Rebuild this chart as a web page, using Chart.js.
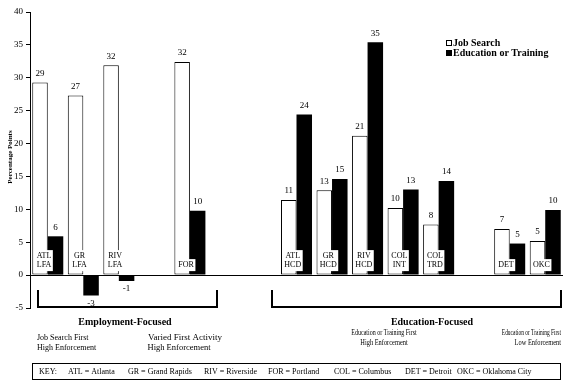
<!DOCTYPE html>
<html lang="en">
<head>
  <meta charset="UTF-8" />
  <title>Percentage Points by Site</title>
  <style>
    body { margin: 0; background: #fff; }
    .wrap { width: 572px; height: 392px; position: relative; }
  </style>
</head>
<body>
  <div class="wrap"><canvas id="chart" width="572" height="392"></canvas></div>

  <script src="https://cdn.jsdelivr.net/npm/chart.js"></script>
  <script>
    // categories (empty slots are the gaps between program groups)
    const sites = ['ATL\nLFA', 'GR\nLFA', 'RIV\nLFA', '', 'FOR', '', '', 'ATL\nHCD', 'GR\nHCD', 'RIV\nHCD', 'COL\nINT', 'COL\nTRD', '', 'DET', 'OKC'];
    const jobSearch = [29.3, 27.3, 31.9, null, 32.4, null, null, 11.4, 12.9, 21.2, 10.2, 7.7, null, 7.0, 5.2];
    const eduTraining = [5.9, -3.1, -0.9, null, 9.8, null, null, 24.4, 14.6, 35.4, 13.0, 14.3, null, 4.8, 9.9];
    const yTicks = [-5, 0, 5, 10, 15, 20, 25, 30, 35, 40];
    const seriesNames = ['Job Search', 'Education or Training'];
    const keyItems = ['KEY:', 'ATL = Atlanta', 'GR = Grand Rapids', 'RIV = Riverside', 'FOR = Portland', 'COL = Columbus', 'DET = Detroit', 'OKC = Oklahoma City'];

    const SERIF = '"Liberation Serif", "DejaVu Serif", serif';

    // text squeezed horizontally, like the narrow print in the original
    function narrowText(ctx, text, x, y, sx) {
      ctx.save();
      ctx.translate(x, y);
      ctx.scale(sx, 1);
      ctx.fillText(text, 0, 0);
      ctx.restore();
    }

    const extras = {
      id: 'extras',
      afterDatasetsDraw(chart) {
        const ctx = chart.ctx;
        ctx.save();
        ctx.fillStyle = '#000';
        ctx.textAlign = 'center';
        ctx.textBaseline = 'middle';
        ctx.font = '9px ' + SERIF;

        // value labels
        chart.data.datasets.forEach((ds, di) => {
          chart.getDatasetMeta(di).data.forEach((bar, i) => {
            const v = ds.data[i];
            if (v === null) return;
            const y = v >= 0 ? bar.y - 9 : bar.y + 8;
            ctx.fillText(String(Math.round(v)), bar.x, y);
          });
        });

        // site labels in white boxes near the baseline
        const meta = chart.getDatasetMeta(0);
        const zeroY = chart.scales.y.getPixelForValue(0);
        ctx.font = '8px ' + SERIF;
        sites.forEach((s, i) => {
          if (!s || jobSearch[i] === null) return;
          const lines = s.split('\n');
          const cx = meta.data[i].x + 4;
          const w = Math.max(...lines.map(l => ctx.measureText(l).width)) + 3;
          const h = lines.length * 9 + 3;
          const top = zeroY - 4 - h;
          ctx.fillStyle = '#fff';
          ctx.fillRect(cx - w / 2, top, w, h);
          ctx.fillStyle = '#000';
          lines.forEach((l, k) => ctx.fillText(l, cx, top + 6 + k * 9));
        });
        ctx.restore();
      },
      afterDraw(chart) {
        const ctx = chart.ctx;
        ctx.save();
        ctx.fillStyle = '#000';
        ctx.strokeStyle = '#000';

        // y axis title
        ctx.save();
        ctx.translate(10, 157);
        ctx.rotate(-Math.PI / 2);
        ctx.font = 'bold 7px ' + SERIF;
        ctx.textAlign = 'center';
        ctx.textBaseline = 'middle';
        ctx.fillText('Percentage Points', 0, 0);
        ctx.restore();

        // legend
        const colors = ['#fff', '#000'];
        ctx.font = 'bold 10px ' + SERIF;
        ctx.textAlign = 'left';
        ctx.textBaseline = 'middle';
        seriesNames.forEach((n, k) => {
          const y = 43 + k * 10;
          ctx.fillStyle = colors[k];
          ctx.fillRect(446.5, y - 2.5, 5, 5);
          ctx.lineWidth = 1;
          ctx.strokeRect(446.5, y - 2.5, 5, 5);
          ctx.fillStyle = '#000';
          ctx.fillText(n, 453, y);
        });

        // group brackets
        ctx.lineWidth = 2;
        [[38, 217], [272, 561]].forEach(([a, b]) => {
          ctx.beginPath();
          ctx.moveTo(a, 290);
          ctx.lineTo(a, 307);
          ctx.lineTo(b, 307);
          ctx.lineTo(b, 290);
          ctx.stroke();
        });

        ctx.textAlign = 'center';
        ctx.font = 'bold 10px ' + SERIF;
        ctx.fillText('Employment-Focused', 125, 322);
        ctx.fillText('Education-Focused', 432, 322);

        ctx.font = '8px ' + SERIF;
        ctx.textAlign = 'left';
        ctx.fillText('Job Search First', 37, 338);
        ctx.fillText('High Enforcement', 37, 348);
        ctx.textAlign = 'center';
        ctx.font = '9px ' + SERIF;
        ctx.fillText('Varied First Activity', 185, 338);
        ctx.font = '8.5px ' + SERIF;
        ctx.fillText('High Enforcement', 179, 348);
        ctx.font = '8px ' + SERIF;
        narrowText(ctx, 'Education or Training First', 384, 333, 0.75);
        narrowText(ctx, 'High Enforcement', 384, 343, 0.8);
        ctx.textAlign = 'right';
        narrowText(ctx, 'Education or Training First', 561, 333, 0.68);
        narrowText(ctx, 'Low Enforcement', 561, 343, 0.8);

        // key box
        ctx.lineWidth = 1;
        ctx.strokeRect(32.5, 363.5, 528, 16);
        ctx.font = '8px ' + SERIF;
        ctx.textAlign = 'left';
        const keyX = [39, 68, 128, 204, 268, 334, 405, 457];
        keyItems.forEach((t, k) => ctx.fillText(t, keyX[k], 371.5));
        ctx.restore();
      }
    };

    new Chart(document.getElementById('chart'), {
      type: 'bar',
      data: {
        labels: sites,
        datasets: [
          {
            label: seriesNames[0],
            data: jobSearch,
            backgroundColor: '#fff',
            borderColor: '#000',
            borderWidth: 1,
            borderSkipped: false
          },
          {
            label: seriesNames[1],
            data: eduTraining,
            backgroundColor: '#000',
            borderWidth: 0
          }
        ]
      },
      options: {
        responsive: false,
        animation: false,
        layout: { padding: { top: 12, right: 9, bottom: 84, left: 0 } },
        categoryPercentage: 0.873,
        barPercentage: 1,
        plugins: {
          legend: { display: false },
          tooltip: { enabled: false }
        },
        scales: {
          x: { display: false },
          y: {
            min: -5,
            max: 40,
            afterBuildTicks: (s) => { s.ticks = yTicks.map(v => ({ value: v })); },
            afterFit: (s) => { s.width = 30; },
            border: { display: true, color: '#000', width: 1 },
            grid: {
              color: (c) => (c.tick && c.tick.value === 0 ? '#000' : 'rgba(0,0,0,0)'),
              tickColor: '#000',
              tickLength: 4,
              lineWidth: 1
            },
            ticks: {
              color: '#000',
              font: { family: SERIF, size: 9 },
              padding: 3
            }
          }
        }
      },
      plugins: [extras]
    });
  </script>
</body>
</html>
